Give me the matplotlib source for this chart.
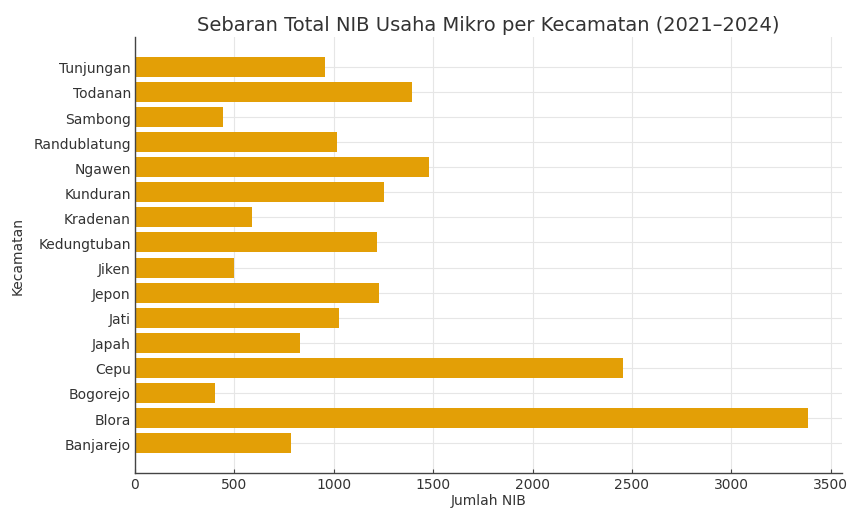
import matplotlib
matplotlib.use("Agg")
import matplotlib.pyplot as plt

# data (bottom to top)
kecamatan = ['Banjarejo', 'Blora', 'Bogorejo', 'Cepu', 'Japah', 'Jati', 'Jepon',
             'Jiken', 'Kedungtuban', 'Kradenan', 'Kunduran', 'Ngawen',
             'Randublatung', 'Sambong', 'Todanan', 'Tunjungan']
jumlah_nib = [784, 3387, 405, 2456, 829, 1028, 1230,
              498, 1217, 591, 1252, 1477,
              1015, 442, 1391, 954]

fig = plt.figure(figsize=(8.51, 5.10), dpi=100)
ax = fig.add_axes([0.1586, 0.0706, 0.8308, 0.8549])

ax.barh(kecamatan, jumlah_nib, color='#E39F06', height=0.8, zorder=2)

ax.set_title('Sebaran Total NIB Usaha Mikro per Kecamatan (2021–2024)',
             fontsize=14, color='#333333', pad=5)
ax.set_xlabel('Jumlah NIB', fontsize=10, color='#333333', labelpad=1)
ax.set_ylabel('Kecamatan', fontsize=10, color='#333333', labelpad=6)

ax.grid(True, color='#e6e6e6', linewidth=0.8, zorder=0)
ax.set_axisbelow(True)
for s in ['top', 'right']:
    ax.spines[s].set_visible(False)
for s in ['left', 'bottom']:
    ax.spines[s].set_color('#444444')
    ax.spines[s].set_linewidth(1.0)
ax.tick_params(direction='in', length=3, labelsize=10, labelcolor='#333333', color='#444444', pad=3)

fig.savefig('out.png', dpi=100)
